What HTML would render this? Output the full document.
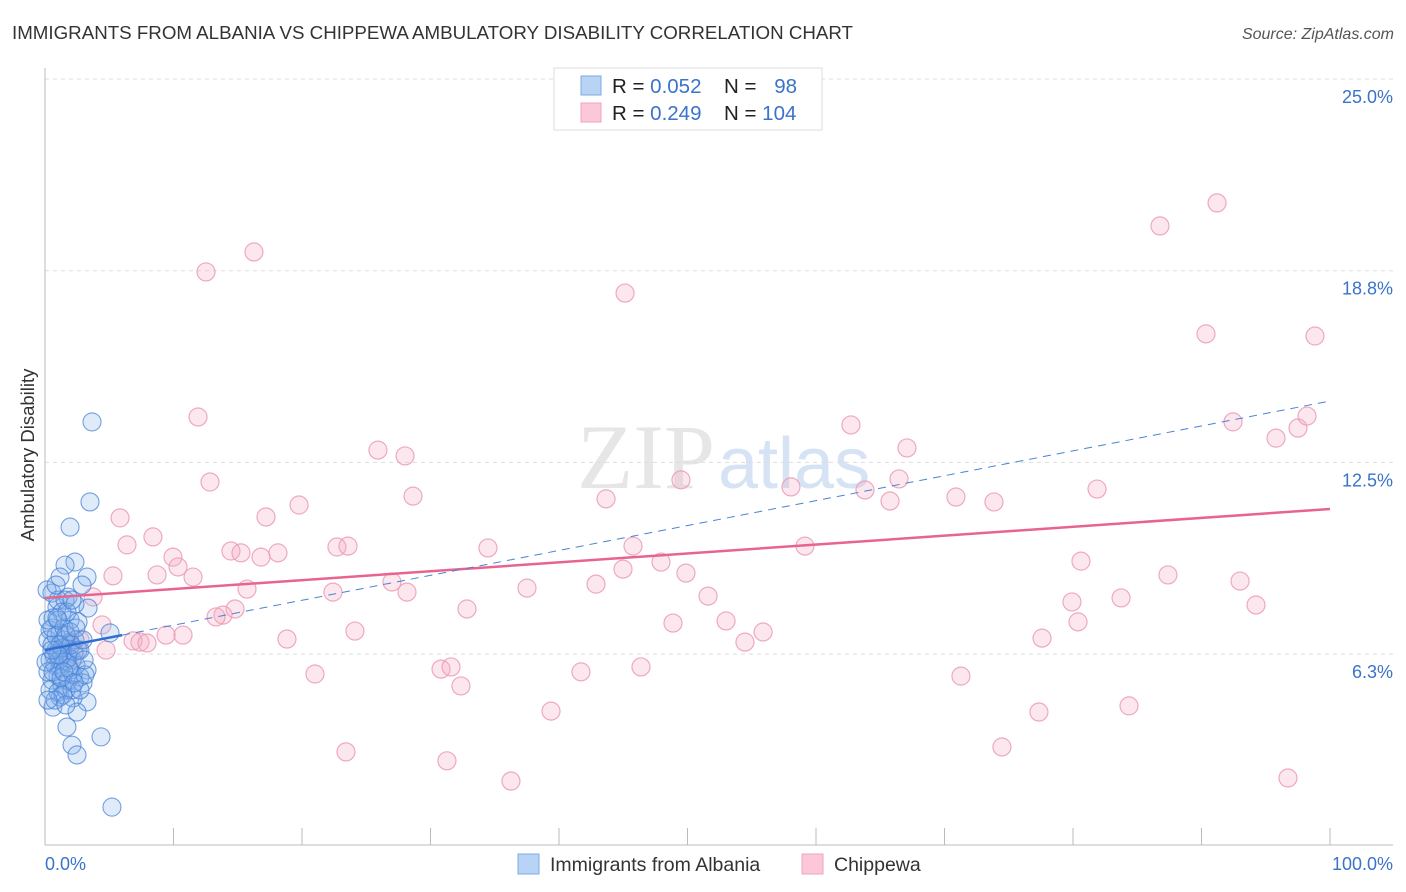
<!DOCTYPE html>
<html><head><meta charset="utf-8"><style>
body{margin:0;background:#fff;font-family:"Liberation Sans",sans-serif;}
#wrap{position:relative;width:1406px;height:892px;overflow:hidden;}
</style></head><body>
<div id="wrap">
<svg id="svg" width="1406" height="892" xmlns="http://www.w3.org/2000/svg">
<text x="12" y="39" font-size="18.5" fill="#333" textLength="841" lengthAdjust="spacingAndGlyphs">IMMIGRANTS FROM ALBANIA VS CHIPPEWA AMBULATORY DISABILITY CORRELATION CHART</text>
<text x="1394" y="39" font-size="16" fill="#555" font-style="italic" text-anchor="end">Source: ZipAtlas.com</text>
<text x="715" y="488" font-size="92" fill="#e6e6e6" text-anchor="end" font-family="Liberation Serif">ZIP</text>
<text x="718" y="488" font-size="72" fill="#d5e3f5">atlas</text>
<g id="grid"></g>
<g id="axes"></g>
<g id="pts"></g>
<g id="lines"></g>
<text transform="translate(34,455) rotate(-90)" font-size="18.5" fill="#333" text-anchor="middle">Ambulatory Disability</text>
<text x="45" y="870" font-size="18" fill="#3a73c9">0.0%</text>
<text x="1393" y="870" font-size="18" fill="#3a73c9" text-anchor="end">100.0%</text>
<g>
<rect x="554" y="68" width="268" height="62" fill="#fff" stroke="#ddd"/>
<rect x="581" y="76" width="20" height="19" fill="#b9d3f5" stroke="#7ea9e3"/>
<rect x="581" y="103" width="20" height="19" fill="#fbc8d8" stroke="#f2a2bc"/>
<text x="612" y="93" font-size="20.5" fill="#222">R = <tspan fill="#3a73c9">0.052</tspan></text>
<text x="724" y="93" font-size="20.5" fill="#222">N = </text><text x="797" y="93" font-size="20.5" fill="#3a73c9" text-anchor="end">98</text>
<text x="612" y="120" font-size="20.5" fill="#222">R = <tspan fill="#3a73c9">0.249</tspan></text>
<text x="724" y="120" font-size="20.5" fill="#222">N = <tspan fill="#3a73c9">104</tspan></text>
</g>
<g>
<rect x="518" y="854" width="21" height="20" fill="#b9d3f5" stroke="#7ea9e3"/>
<text x="550" y="871" font-size="19.5" fill="#333">Immigrants from Albania</text>
<rect x="802" y="854" width="21" height="20" fill="#fbc8d8" stroke="#f2a2bc"/>
<text x="834" y="871" font-size="19.5" fill="#333">Chippewa</text>
</g>
</svg>
</div>
<script>
const yTicks=[6.25,12.5,18.75,25];
const yTickLabels=["6.3%","12.5%","18.8%","25.0%"];
const xTicks=[0,10,20,30,40,50,60,70,80,90,100];
const blueX=[3.66,3.50,1.95,2.33,1.56,1.17,3.27,0.54,1.79,2.88,3.35,0.93,0.62,1.95,2.57,5.06,0.39,1.17,3.27,2.72,3.27,0.62,1.17,2.18,2.49,1.71,2.10,2.49,4.36,5.21,2.96,0.16,1.01,1.56,2.33,0.23,0.54,0.86,1.32,1.63,1.95,2.26,0.39,0.78,1.17,1.56,1.95,1.01,0.54,1.32,1.79,2.18,0.23,1.48,0.86,2.10,2.41,0.39,1.01,1.63,2.10,2.72,3.11,0.70,1.79,1.32,2.33,0.54,1.48,2.72,1.32,0.23,1.01,1.63,2.02,1.09,0.62,1.25,1.87,1.40,0.78,2.57,3.04,1.71,0.86,2.10,0.08,1.17,1.95,2.41,1.01,1.48,0.54,0.23,2.26,1.63,2.96,0.93];
const blueY=[13.82,11.21,10.39,9.25,9.15,8.76,8.76,8.24,8.11,8.50,7.75,7.78,7.43,7.36,7.30,6.94,7.03,6.94,5.73,5.50,4.69,4.52,4.85,4.82,4.36,3.87,3.28,2.96,3.55,1.26,5.31,8.34,8.01,8.01,7.88,6.71,6.55,6.38,6.22,6.45,6.64,6.32,6.06,5.89,5.80,5.99,5.73,5.53,5.40,5.24,5.40,5.57,5.67,6.71,6.84,6.06,5.89,5.08,5.01,5.08,5.08,5.08,5.57,6.22,6.12,6.45,6.71,7.10,7.10,6.38,7.62,7.36,7.36,6.87,6.55,6.06,5.67,5.47,5.80,4.92,4.75,6.38,6.06,7.62,8.50,8.01,5.99,6.55,6.97,7.10,6.22,5.67,6.38,4.75,5.31,4.59,6.71,7.43];
const pinkX=[12.53,16.26,45.14,86.77,91.21,90.35,98.83,11.91,62.72,92.45,95.80,97.51,98.21,25.91,28.02,67.08,12.84,49.49,66.46,28.64,43.66,58.05,63.81,65.76,70.89,73.85,81.87,19.77,5.84,17.20,8.40,6.38,9.96,10.35,5.29,8.72,11.52,14.47,15.25,16.81,18.13,22.72,23.58,27.00,28.17,22.41,15.72,3.74,4.44,14.79,13.85,13.31,9.42,10.74,6.85,7.39,7.94,4.75,18.83,24.12,32.84,21.01,30.82,31.60,32.37,23.42,31.28,34.47,37.51,42.88,44.98,45.76,47.94,49.88,51.60,48.87,53.00,54.47,55.88,59.14,41.71,46.38,39.38,36.26,80.62,87.39,93.00,94.24,79.92,83.74,80.39,77.59,71.28,77.35,84.36,74.47,96.73,1.17,1.95,2.72,2.33];
const pinkY=[18.71,19.36,18.02,20.21,20.96,16.69,16.62,13.98,13.72,13.82,13.29,13.62,14.01,12.90,12.71,12.97,11.86,11.93,11.96,11.40,11.31,11.70,11.60,11.24,11.37,11.21,11.63,11.11,10.69,10.72,10.07,9.81,9.41,9.09,8.80,8.83,8.76,9.61,9.55,9.41,9.55,9.74,9.77,8.60,8.27,8.27,8.37,8.11,7.20,7.72,7.52,7.46,6.87,6.87,6.68,6.64,6.61,6.38,6.74,7.00,7.72,5.60,5.76,5.83,5.21,3.06,2.77,9.71,8.40,8.53,9.02,9.77,9.25,8.89,8.14,7.26,7.33,6.64,6.97,9.77,5.67,5.83,4.39,2.11,9.28,8.83,8.63,7.85,7.95,8.08,7.30,6.77,5.53,4.36,4.56,3.22,2.21,6.38,6.61,6.71,6.22];
const blueTrend=[6.38,14.50];
const pinkTrend=[8.08,10.98];
const blueSolidEnd=6.0;

const NS="http://www.w3.org/2000/svg";
const X=v=>45+v*12.85;
const Y=v=>79+(25-v)*30.67;
function mk(tag,attrs,parent){const e=document.createElementNS(NS,tag);for(const k in attrs)e.setAttribute(k,attrs[k]);parent.appendChild(e);return e;}
const grid=document.getElementById('grid'),axes=document.getElementById('axes'),pts=document.getElementById('pts'),lines=document.getElementById('lines');
yTicks.forEach((t,i)=>{
 const l=mk('line',{x1:45,x2:1393,y1:Y(t),y2:Y(t),stroke:'#ddd','stroke-dasharray':'4,4'},grid);
 
 
 const tx=mk('text',{x:1393,y:Y(t)+24,'font-size':18,fill:'#3a73c9','text-anchor':'end'},grid);
 tx.textContent=yTickLabels[i];
 
 
});
const ya=mk('line',{x1:45,x2:45,y1:68,y2:845,stroke:'#bbb'},axes);


const xa=mk('line',{x1:45,x2:1393,y1:845,y2:845,stroke:'#bbb'},axes);


xTicks.forEach(t=>{
 const l=mk('line',{x1:X(t),x2:X(t),y1:828,y2:845,stroke:'#bbb'},axes);
 
 
});
pinkX.forEach((v,i)=>{
 const c=mk('circle',{cx:X(v),cy:Y(pinkY[i]),r:9,fill:'rgba(246,168,194,0.28)',stroke:'rgba(235,155,181,0.85)','stroke-width':1.2},pts);
 
 
});
blueX.forEach((v,i)=>{
 const c=mk('circle',{cx:X(v),cy:Y(blueY[i]),r:9,fill:'rgba(130,175,235,0.25)',stroke:'rgba(70,130,215,0.75)','stroke-width':1.1},pts);
 
 
});
const pl=mk('line',{x1:X(0),y1:Y(pinkTrend[0]),x2:X(100),y2:Y(pinkTrend[1]),stroke:'#e8648f','stroke-width':2.5},lines);


const by=v=>blueTrend[0]+(blueTrend[1]-blueTrend[0])*v/100;
const bd=mk('line',{x1:X(blueSolidEnd),y1:Y(by(blueSolidEnd)),x2:X(100),y2:Y(blueTrend[1]),stroke:'#4a82d4','stroke-width':1,'stroke-dasharray':'8,6'},lines);


const bs=mk('line',{x1:X(0),y1:Y(blueTrend[0]),x2:X(blueSolidEnd),y2:Y(by(blueSolidEnd)),stroke:'#2f6fd0','stroke-width':2.5},lines);


</script>
</body></html>
